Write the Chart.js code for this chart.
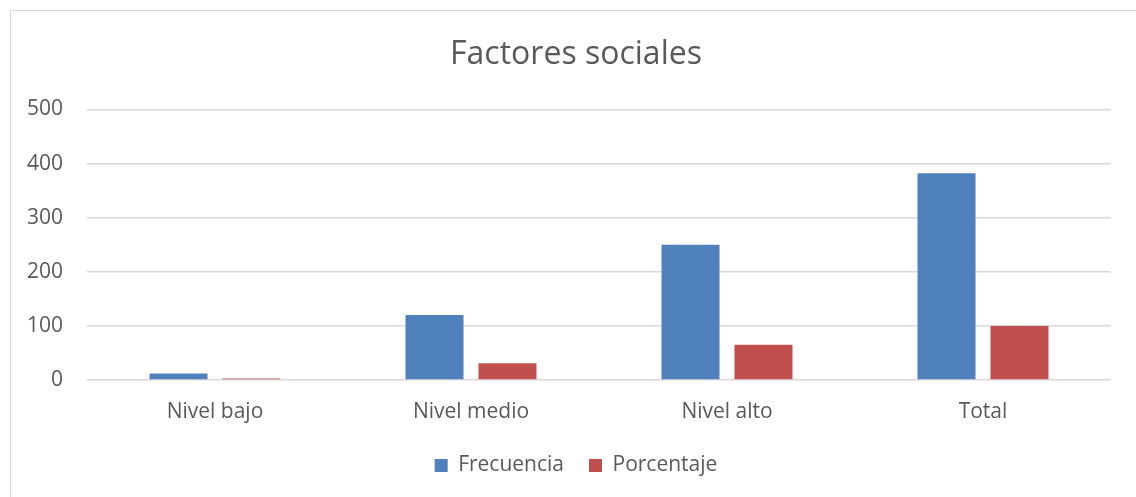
<!DOCTYPE html>
<html>
<head>
<meta charset="utf-8">
<script src="https://cdn.jsdelivr.net/npm/chart.js@4"></script>
<style>
  html,body{margin:0;padding:0;background:#fff;overflow:hidden}
  #wrap{position:absolute;left:10px;top:10px;width:1130px;height:487px;border-left:1px solid #d9d9d9;border-top:1px solid #d9d9d9}
</style>
</head>
<body>
<div id="wrap"><canvas id="chartFactores"></canvas></div>
<script>
// datos
const categorias = ['Nivel bajo','Nivel medio','Nivel alto','Total'];
const frecuencia = [12, 120, 250, 382];
const porcentaje = [3, 31, 65, 100];
const ticksY = [0, 100, 200, 300, 400, 500];

const COLORS = { azul:'#4f81bd', rojo:'#c0504d', texto:'#595959', grid:'#d9d9d9' };
const FONT = "'Open Sans', sans-serif";

const ctx = document.getElementById('chartFactores').getContext('2d');
new Chart(ctx, {
  type:'bar',
  data:{
    labels:categorias,
    datasets:[
      { label:'Frecuencia', data:frecuencia, backgroundColor:COLORS.azul, categoryPercentage:0.57, barPercentage:0.795 },
      { label:'Porcentaje', data:porcentaje, backgroundColor:COLORS.rojo, categoryPercentage:0.57, barPercentage:0.795 }
    ]
  },
  options:{
    responsive:true, maintainAspectRatio:false, animation:false,
    layout:{ padding:{ left:0, right:0, top:25, bottom:12 } },
    plugins:{
      title:{ display:true, text:'Factores sociales', color:COLORS.texto,
              font:{ family:FONT, size:32, weight:'normal' }, padding:{ top:0, bottom:35 } },
      legend:{ position:'bottom',
               labels:{ color:COLORS.texto, font:{ family:FONT, size:21 }, boxWidth:13, boxHeight:13, padding:25 } },
      tooltip:{ enabled:false }
    },
    scales:{
      x:{
        grid:{ display:false }, border:{ display:false },
        ticks:{ color:COLORS.texto, font:{ family:FONT, size:21 }, padding:11 },
        afterFit:s=>{ s.height = 50; }
      },
      y:{
        min:0, max:500,
        afterBuildTicks:s=>{ s.ticks = ticksY.map(v=>({ value:v })); },
        grid:{ color:COLORS.grid, lineWidth:1.5, drawTicks:false }, border:{ display:false },
        ticks:{ color:COLORS.texto, font:{ family:FONT, size:21 }, padding:24 },
        afterFit:s=>{ s.width = 76; }
      },
      // margen derecho vacio del area del grafico
      yDer:{
        position:'right', grid:{ display:false }, border:{ display:false },
        ticks:{ display:false },
        afterFit:s=>{ s.width = 30; }
      }
    }
  }
});
</script>
</body>
</html>
